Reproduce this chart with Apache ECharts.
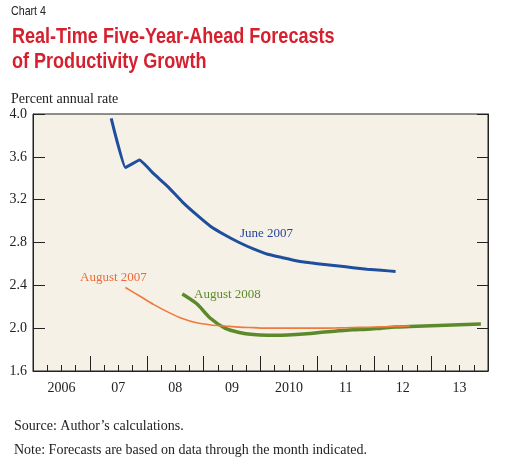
<!DOCTYPE html>
<html>
<head>
<meta charset="utf-8">
<script src="https://cdn.jsdelivr.net/npm/echarts@6/dist/echarts.min.js"></script>
<style>
html,body{margin:0;padding:0;background:#fff;}
#main{width:506px;height:467px;}
</style>
</head>
<body>
<div id="main"></div>
<script>
// years shown under the axis (label sits in the middle of each year)
let yearLabels = ['2006', '07', '08', '09', '2010', '11', '12', '13'];
let yTicks = [1.6, 2.0, 2.4, 2.8, 3.2, 3.6, 4.0];

// quarterly points, plotted at the middle of each quarter
let june2007X = [2007.375, 2007.625, 2007.875, 2008.125, 2008.375, 2008.625, 2008.875,
    2009.125, 2009.375, 2009.625, 2009.875, 2010.125, 2010.375, 2010.625, 2010.875,
    2011.125, 2011.375, 2011.625, 2011.875, 2012.125, 2012.375];
let june2007Y = [3.96, 3.50, 3.57, 3.44, 3.32, 3.18, 3.06,
    2.95, 2.87, 2.80, 2.74, 2.69, 2.66, 2.63, 2.61,
    2.595, 2.58, 2.565, 2.55, 2.54, 2.53];

let aug2007X = [2007.625, 2007.875, 2008.125, 2008.375, 2008.625, 2008.875,
    2009.125, 2009.375, 2009.625, 2009.875, 2010.125, 2010.375, 2010.625, 2010.875,
    2011.125, 2011.375, 2011.625, 2011.875, 2012.125, 2012.375, 2012.625];
let aug2007Y = [2.38, 2.30, 2.22, 2.15, 2.09, 2.05,
    2.03, 2.02, 2.01, 2.005, 2.0, 2.0, 2.0, 2.0,
    2.0, 2.003, 2.006, 2.009, 2.012, 2.015, 2.02];

let aug2008X = [2008.625, 2008.875, 2009.125, 2009.375, 2009.625, 2009.875,
    2010.125, 2010.375, 2010.625, 2010.875, 2011.125, 2011.375, 2011.625, 2011.875,
    2012.125, 2012.375, 2012.625, 2012.875, 2013.125, 2013.375, 2013.625, 2013.875];
let aug2008Y = [2.32, 2.23, 2.09, 2.00, 1.96, 1.94,
    1.935, 1.935, 1.94, 1.95, 1.965, 1.975, 1.985, 1.99,
    2.00, 2.01, 2.015, 2.02, 2.025, 2.03, 2.035, 2.04];

function pairs(xs, ys) {
    let out = [];
    for (let i = 0; i < xs.length; i++) out.push([xs[i], ys[i]]);
    return out;
}

let serif = '"Liberation Serif", "DejaVu Serif", serif';
let sans = '"Liberation Sans", Arial, sans-serif';
let chart = echarts.init(document.getElementById('main'));

let option = {
    backgroundColor: '#ffffff',
    animation: false,
    grid: {
        left: 33, right: 18, top: 114, bottom: 96,
        show: true, backgroundColor: '#F6F1E6', borderColor: '#222', borderWidth: 1
    },
    xAxis: [{
        type: 'value', min: 2006, max: 2014, interval: 1, position: 'bottom',
        axisLine: {show: true, lineStyle: {color: '#222', width: 1}},
        axisTick: {show: true, inside: true, length: 15, lineStyle: {color: '#222'}},
        minorTick: {show: true, splitNumber: 4, length: 6, lineStyle: {color: '#222'}},
        axisLabel: {show: false},
        splitLine: {show: false}
    }, {
        type: 'category', data: yearLabels, position: 'bottom', boundaryGap: true,
        axisLine: {show: false}, axisTick: {show: false},
        axisLabel: {color: '#222', fontFamily: serif, fontSize: 14, margin: 10},
        splitLine: {show: false}
    }],
    yAxis: [{
        type: 'value', min: yTicks[0], max: yTicks[yTicks.length - 1], interval: 0.4,
        axisLine: {show: true, lineStyle: {color: '#222'}},
        axisTick: {show: true, inside: true, length: 12, lineStyle: {color: '#222'}},
        axisLabel: {color: '#222', fontFamily: serif, fontSize: 14, margin: 6,
            formatter: function (v) { return v.toFixed(1); }},
        splitLine: {show: false}
    }, {
        type: 'value', min: yTicks[0], max: yTicks[yTicks.length - 1], interval: 0.4, position: 'right',
        axisLine: {show: true, lineStyle: {color: '#222'}},
        axisTick: {show: true, inside: true, length: 11, lineStyle: {color: '#222'}},
        axisLabel: {show: false},
        splitLine: {show: false}
    }],
    graphic: [
        {type: 'text', x: 11, y: 5, scaleX: 0.82, style: {text: 'Chart 4', fill: '#222',
            font: '13px ' + sans}},
        {type: 'text', x: 12, y: 24, scaleX: 0.82, style: {text: 'Real-Time Five-Year-Ahead Forecasts\nof Productivity Growth',
            fill: '#D6202E', lineHeight: 25,
            font: 'bold 22px ' + sans}},
        {type: 'text', x: 11, y: 92, style: {text: 'Percent annual rate', fill: '#222',
            font: '14px ' + serif}},
        {type: 'text', x: 240, y: 227, style: {text: 'June 2007', fill: '#26479A',
            font: '13px ' + serif}},
        {type: 'text', x: 80, y: 271, style: {text: 'August 2007', fill: '#EC6B3A',
            font: '13px ' + serif}},
        {type: 'text', x: 194, y: 288, style: {text: 'August 2008', fill: '#5E8A2C',
            font: '13px ' + serif}},
        {type: 'text', x: 14, y: 419, style: {text: 'Source: Author\u2019s calculations.', fill: '#222',
            font: '14px ' + serif}},
        {type: 'text', x: 14, y: 443, style: {text: 'Note: Forecasts are based on data through the month indicated.',
            fill: '#222', font: '14px ' + serif}}
    ],
    series: [{
        name: 'June 2007', type: 'line', xAxisIndex: 0, yAxisIndex: 0,
        data: pairs(june2007X, june2007Y), showSymbol: false, smooth: 0.1,
        lineStyle: {color: '#1E4E9E', width: 3}, z: 3
    }, {
        name: 'August 2008', type: 'line', xAxisIndex: 0, yAxisIndex: 0,
        data: pairs(aug2008X, aug2008Y), showSymbol: false, smooth: 0.3,
        lineStyle: {color: '#5C8A2A', width: 3.5}, z: 3
    }, {
        name: 'August 2007', type: 'line', xAxisIndex: 0, yAxisIndex: 0,
        data: pairs(aug2007X, aug2007Y), showSymbol: false, smooth: 0.3,
        lineStyle: {color: '#EF7A3C', width: 1.6}, z: 4
    }]
};
chart.setOption(option);
</script>
</body>
</html>
